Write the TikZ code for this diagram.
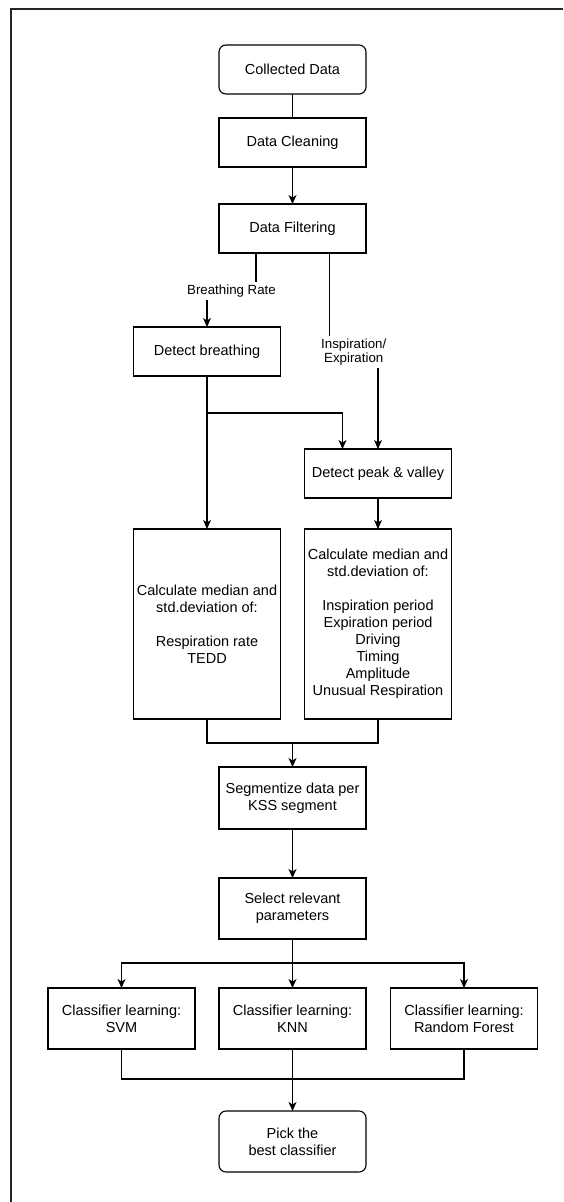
\documentclass[tikz,border=0pt]{standalone}
\usepackage{fontspec}
\setmainfont{Liberation Sans}
\usetikzlibrary{arrows.meta,calc}
\begin{document}
\begin{tikzpicture}[x=1pt,y=-1pt,
  every node/.style={inner sep=0pt, outer sep=0pt},
  box/.style={draw=black, line width=1.1pt, fill=white, minimum width=147pt, minimum height=49pt, align=center, font=\fontsize{14.5pt}{17pt}\selectfont},
  rbox/.style={box, rounded corners=7pt},
  lbl/.style={fill=white, inner sep=3pt, align=center, font=\fontsize{13.3pt}{14.5pt}\selectfont},
  conn/.style={line width=1.1pt, draw=black},
  arr/.style={conn, -{Stealth[length=9pt,width=8pt,inset=2.5pt]}}
]
\useasboundingbox (0,0) rectangle (563,1202);
\draw[line width=1.6pt, draw=black!85] (11,1202) -- (11,9) -- (563,9);

\node[rbox] (collected) at (292.5,69.5) {Collected Data};
\node[box] (cleaning) at (292.5,142.5) {Data Cleaning};
\node[box] (filtering) at (292.5,228.5) {Data Filtering};
\node[box] (breath) at (207,351.5) {Detect breathing};
\node[box] (peak) at (378,473.5) {Detect peak \& valley};
\node[box, minimum height=190pt] (calcL) at (207,624) {Calculate median and\\std.deviation of:\\[17pt]Respiration rate\\TEDD};
\node[box, minimum height=190pt] (calcR) at (378,624) {Calculate median and\\std.deviation of:\\[17pt]Inspiration period\\Expiration period\\Driving\\Timing\\Amplitude\\Unusual Respiration};
\node[box, minimum height=62pt] (seg) at (292.5,798) {Segmentize data per\\KSS segment};
\node[box, minimum height=61pt] (select) at (292.5,908.5) {Select relevant\\parameters};
\node[box, minimum height=61pt] (svm) at (121.5,1018.5) {Classifier learning:\\SVM};
\node[box, minimum height=61pt] (knn) at (292.5,1018.5) {Classifier learning:\\KNN};
\node[box, minimum height=61pt] (rf) at (464,1018.5) {Classifier learning:\\Random Forest};
\node[rbox, minimum height=61pt] (pick) at (292.5,1141.5) {Pick the\\best classifier};

\draw[conn] (collected.south) -- (cleaning.north);
\draw[arr] (cleaning.south) -- (filtering.north);
\draw[arr] ([xshift=37pt]filtering.south west) -- ++(0,38) -| node[lbl,pos=0.25]{Breathing Rate} (breath.north);
\draw[arr] ([xshift=110.5pt]filtering.south west) -- ++(0,99) -| node[lbl,pos=0.25]{Inspiration/\\Expiration} (peak.north);
\draw[arr] (breath.south) -- ++(0,37) -| ([xshift=38pt]peak.north west);
\draw[arr] (breath.south) -- (calcL.north);
\draw[arr] (peak.south) -- (calcR.north);
\draw[conn] (calcL.south) -- ++(0,24) coordinate (m1) -| (calcR.south);
\draw[arr] (m1 -| seg.north) -- (seg.north);
\draw[arr] (seg.south) -- (select.north);
\draw[conn] (select.south) -- ++(0,24) coordinate (m2);
\draw[arr] (m2) -| (svm.north);
\draw[arr] (m2) -| (rf.north);
\draw[arr] (m2) -- (knn.north);
\draw[conn] (svm.south) -- ++(0,30) coordinate (m3) -| (rf.south);
\draw[arr] (knn.south) -- (pick.north);
\end{tikzpicture}
\end{document}
